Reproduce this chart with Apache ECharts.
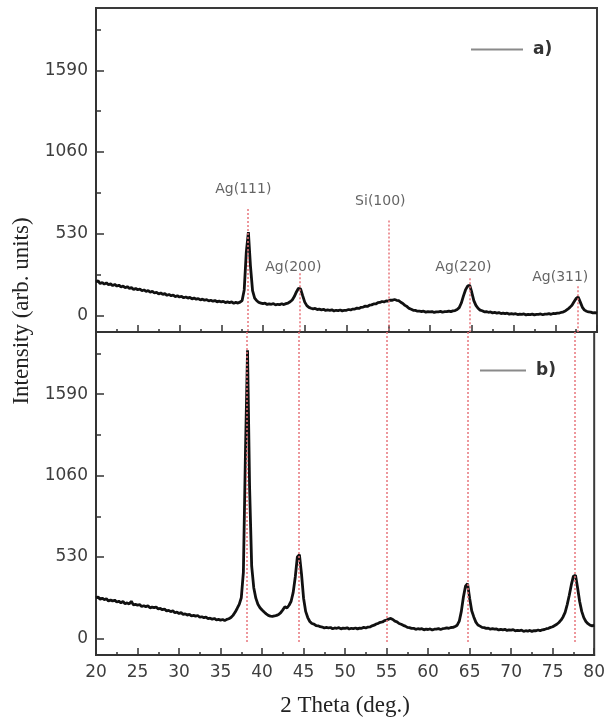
<!DOCTYPE html>
<html>
<head>
<meta charset="utf-8">
<script src="https://cdn.jsdelivr.net/npm/echarts@6/dist/echarts.min.js"></script>
<style>
  html, body { margin: 0; padding: 0; background: #fff; }
  #chart { width: 608px; height: 723px; }
</style>
</head>
<body>
<div id="chart"></div>
<script>
// Scan grid: 20° to 80° in 0.25° steps
const twoTheta = [];
for (let i = 0; i <= 240; i++) twoTheta.push(20 + i * 0.25);

// Sample a) intensities, one value per grid point
const intensityA = [
  217, 224, 206, 213,  203, 211, 199, 204,  193, 201, 190, 196,  184, 190, 179, 186,
  175, 180, 168, 175,  166, 171, 160, 165,  155, 161, 150, 156,  145, 150, 139, 145,
  136, 141, 130, 136,  127, 132, 122, 127,  119, 124, 114, 119,  112, 117, 107, 112,
  105, 109, 100, 105,   98, 102,  94,  98,   92,  96,  88,  92,   87,  91,  83,  87,
   83,  87,  79,  84,   80,  86,  96, 165,  410, 540, 320, 160,  112,  95,  84,  80,
   76,  79,  71,  75,   72,  76,  68,  72,   70,  75,  70,  76,   80,  88, 100, 122,
  152, 176, 172, 128,   86,  63,  52,  46,   42,  45,  38,  40,   36,  39,  32,  35,
   33,  36,  29,  33,   31,  35,  29,  33,   33,  38,  35,  41,   41,  47,  45,  52,
   54,  60,  58,  66,   68,  74,  74,  82,   84,  90,  87,  94,   93,  99,  98, 103,
   98,  96,  85,  77,   65,  57,  45,  40,   33,  32,  27,  28,   25,  27,  21,  24,
   22,  25,  19,  23,   22,  26,  20,  24,   24,  28,  24,  29,   31,  38,  50,  80,
  125, 165, 190, 196,  150,  96,  65,  46,   34,  30,  23,  24,   20,  22,  16,  19,
   15,  18,  12,  15,   11,  14,   8,  11,    8,  11,   5,   8,    6,   9,   3,   7,
    5,   8,   3,   7,    6,   9,   4,   8,    8,  11,   7,  12,   11,  15,  15,  20,
   23,  30,  40,  52,   66,  88, 110, 119,   86,  52,  34,  27,   22,  21,  16,  18,
   15
];

// Sample b) intensities, one value per grid point
const intensityB = [
  264, 270, 255, 262,  252, 258, 244, 250,  243, 249, 237, 242,  232, 240, 226, 231,
  224, 242, 218, 222,  216, 221, 208, 213,  207, 212, 199, 204,  200, 204, 192, 195,
  186, 192, 179, 183,  174, 180, 167, 171,  162, 168, 156, 160,  152, 157, 146, 150,
  145, 149, 138, 141,  135, 139, 128, 132,  125, 130, 120, 124,  119, 123, 116, 124,
  128, 136, 150, 170,  195, 222, 265, 430, 1210,1876, 980, 470,  330, 262, 222, 200,
  185, 172, 160, 150,  145, 143, 146, 150,  156, 168, 186, 206,  198, 216, 242, 300,
  400, 530, 545, 420,  262, 176, 136, 110,   97,  93,  84,  82,   76,  74,  68,  72,
   68,  71,  63,  68,   66,  70,  62,  67,   65,  69,  61,  66,   64,  68,  62,  67,
   66,  72,  68,  74,   75,  82,  86,  94,   98, 105, 107, 116,  119, 126, 130, 123,
  112, 108,  97,  92,   85,  80,  72,  70,   65,  66,  59,  63,   60,  63,  56,  60,
   58,  62,  55,  60,   60,  64,  58,  63,   65,  69,  66,  71,   72,  78,  86, 112,
  176, 270, 340, 357,  262, 180, 140, 106,   87,  80,  72,  70,   65,  67,  60,  63,
   60,  62,  55,  59,   56,  59,  52,  56,   54,  57,  49,  53,   50,  54,  46,  50,
   47,  52,  46,  51,   50,  55,  50,  56,   58,  63,  66,  72,   76,  84,  92, 104,
  119, 140, 170, 220,  281, 350, 405, 411,  330, 240, 176, 135,  110,  96,  86,  82,
   86
];

// Reflection assignments and their 2θ positions
const peakNames = ['Ag(111)', 'Ag(200)', 'Si(100)', 'Ag(220)', 'Ag(311)'];
const peakTheta = [38.2, 44.45, 55.0, 64.75, 77.65];

// Axis ticks
const yMajorTicks = [0, 530, 1060, 1590];
const yMinorTicks = [265, 795, 1325, 1855];

// ---- layout ----
const Y_MIN = -108, Y_MAX = 1995;
const markerTopA = [691, 274, 615, 241, 189];   // upper ends of reference lines in panel a)
const markerBottomB = -25;
const labelAnchor = [[37.64, 821], [43.63, 313], [54.05, 737], [64.0, 313], [75.6, 248]];

const SANS = 'DejaVu Sans';
const SERIF = 'Liberation Serif';
const AXIS_COLOR = '#333';
const TEXT_COLOR = '#3d3d3d';

function pairs(ys) { return twoTheta.map((t, i) => [t, ys[i]]); }

function xAxisFor(grid, showLabels) {
  return {
    type: 'value', gridIndex: grid, min: 20, max: 80, interval: 5,
    axisLine: { show: true, onZero: false, lineStyle: { color: AXIS_COLOR, width: 2 } },
    axisTick: { show: true, inside: true, length: 7, lineStyle: { color: AXIS_COLOR, width: 1.5 } },
    minorTick: { show: true, splitNumber: 2, length: 3, lineStyle: { color: AXIS_COLOR, width: 1.5 } },
    axisLabel: { show: showLabels, fontFamily: SANS, fontSize: 17, color: TEXT_COLOR, margin: 9 },
    splitLine: { show: false }, minorSplitLine: { show: false }
  };
}

function yAxesFor(grid) {
  return [{
    type: 'value', gridIndex: grid, min: Y_MIN, max: Y_MAX, position: 'left',
    axisLine: { show: true, onZero: false, lineStyle: { color: AXIS_COLOR, width: 2 } },
    axisTick: { show: true, inside: true, length: 8, customValues: yMajorTicks, lineStyle: { color: AXIS_COLOR, width: 1.5 } },
    axisLabel: {
      show: true, customValues: yMajorTicks, formatter: v => String(v),
      fontFamily: SANS, fontSize: 17, color: TEXT_COLOR, margin: 8
    },
    splitLine: { show: false }
  }, {
    type: 'value', gridIndex: grid, min: Y_MIN, max: Y_MAX, position: 'left',
    axisLine: { show: false },
    axisTick: { show: true, inside: true, length: 5, customValues: yMinorTicks, lineStyle: { color: AXIS_COLOR, width: 1.5 } },
    axisLabel: { show: false },
    splitLine: { show: false }
  }];
}

const markerStyle = { color: '#e8767c', type: [2, 2], width: 1.5 };

const option = {
  animation: false,
  backgroundColor: '#fff',
  grid: [
    { left: 96, right: 11, top: 8, height: 324, show: true, borderColor: '#3a3a3a', borderWidth: 2, backgroundColor: 'transparent' },
    { left: 96, right: 11, top: 332, height: 323, show: true, borderColor: '#3a3a3a', borderWidth: 2, backgroundColor: 'transparent' }
  ],
  xAxis: [
    xAxisFor(0, false),
    Object.assign(xAxisFor(1, true), {
      name: '2 Theta (deg.)', nameLocation: 'middle', nameGap: 39,
      nameTextStyle: { fontFamily: SERIF, fontSize: 23, color: '#222' }
    })
  ],
  yAxis: yAxesFor(0).concat(yAxesFor(1)),
  legend: [
    {
      data: ['a)'], left: 471, top: 41, padding: 0, selectedMode: false,
      icon: 'rect', itemWidth: 52, itemHeight: 2, itemGap: 0,
      itemStyle: { color: '#8a8a8a' },
      textStyle: { fontFamily: SANS, fontSize: 17, fontWeight: 'bold', color: '#333', padding: [0, 0, 0, 5] }
    },
    {
      data: ['b)'], left: 480, top: 362, padding: 0, selectedMode: false,
      icon: 'rect', itemWidth: 46, itemHeight: 2, itemGap: 0,
      itemStyle: { color: '#8a8a8a' },
      textStyle: { fontFamily: SANS, fontSize: 17, fontWeight: 'bold', color: '#333', padding: [0, 0, 0, 5] }
    }
  ],
  graphic: [{
    type: 'text', x: 22, y: 311, rotation: Math.PI / 2,
    style: { text: 'Intensity (arb. units)', fontFamily: SERIF, fontSize: 23, fill: '#222', align: 'center', verticalAlign: 'middle' }
  }],
  series: [
    {
      name: 'a)', type: 'line', xAxisIndex: 0, yAxisIndex: 0,
      data: pairs(intensityA), showSymbol: false, symbol: 'none',
      lineStyle: { color: '#111', width: 2.8 }, itemStyle: { color: '#111' },
      markLine: {
        silent: true, symbol: 'none', label: { show: false }, lineStyle: markerStyle,
        data: peakTheta.map((t, i) => [{ coord: [t, markerTopA[i]] }, { coord: [t, Y_MIN] }])
      },
      z: 3
    },
    {
      name: 'b)', type: 'line', xAxisIndex: 1, yAxisIndex: 2,
      data: pairs(intensityB), showSymbol: false, symbol: 'none',
      lineStyle: { color: '#111', width: 2.8 }, itemStyle: { color: '#111' },
      markLine: {
        silent: true, symbol: 'none', label: { show: false }, lineStyle: markerStyle,
        data: peakTheta.map(t => [{ coord: [t, Y_MAX] }, { coord: [t, markerBottomB] }])
      },
      z: 3
    },
    {
      name: 'labels', type: 'scatter', xAxisIndex: 0, yAxisIndex: 0,
      symbolSize: 0, silent: true,
      data: peakNames.map((n, i) => ({ name: n, value: labelAnchor[i] })),
      label: {
        show: true, position: 'inside', formatter: p => p.name,
        fontFamily: SANS, fontSize: 14, color: TEXT_COLOR
      },
      z: 4
    }
  ]
};

const chart = echarts.init(document.getElementById('chart'), null, { renderer: 'canvas' });
chart.setOption(option);
</script>
</body>
</html>
